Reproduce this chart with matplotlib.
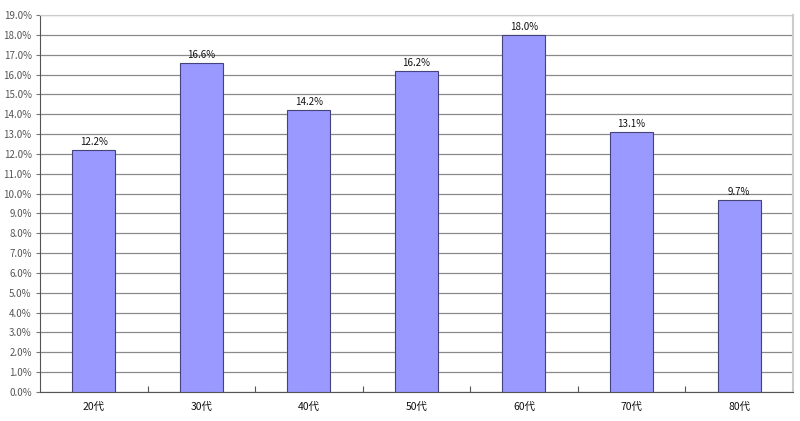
import numpy as np
import matplotlib
matplotlib.use("Agg")
import matplotlib.pyplot as plt
from matplotlib.ticker import FixedLocator

plt.rcParams['font.family'] = ['Noto Sans CJK JP', 'DejaVu Sans']

categories = ["20代", "30代", "40代", "50代", "60代", "70代", "80代"]
values = [12.2, 16.6, 14.2, 16.2, 18.0, 13.1, 9.7]
yticks = np.arange(0, 19.5, 1.0)

fig = plt.figure(figsize=(8, 4.21), dpi=100)
ax = fig.add_axes([0.05, 0.069, 0.941, 0.895])

x = np.arange(len(categories))
ax.bar(x, values, width=0.4, color="#9999ff", edgecolor="#44447a",
       linewidth=0.8, zorder=3)

for xi, v in zip(x, values):
    ax.text(xi, v + 0.15, f"{v:.1f}%", ha="center", va="bottom",
            fontsize=7, color="#111111", zorder=4)

ax.set_xlim(-0.5, len(categories) - 0.5)
ax.set_ylim(0, 19)
ax.set_yticks(yticks)
ax.set_yticklabels([f"{t:.1f}%" for t in yticks], fontsize=7, color="#555555")
ax.set_xticks(x)
ax.set_xticklabels(categories, fontsize=7.5, color="#111111")
ax.tick_params(axis="x", length=0, pad=7)
ax.tick_params(axis="y", length=3, width=0.8, color="#777777", pad=3)

# small ticks at category boundaries, pointing up
ax.xaxis.set_minor_locator(FixedLocator(np.arange(0.5, len(categories) - 1, 1.0)))
ax.tick_params(axis="x", which="minor", direction="in", length=4, width=0.8, color="#555555")

ax.yaxis.grid(True, color="#8a8a8a", linewidth=0.9, zorder=0)
ax.set_axisbelow(True)

ax.spines["left"].set_color("#555555")
ax.spines["bottom"].set_color("#555555")
ax.spines["top"].set_color("#cccccc")
ax.spines["right"].set_color("#cccccc")
ax.spines["right"].set_linewidth(1.5)

fig.savefig("out.png", dpi=100)
